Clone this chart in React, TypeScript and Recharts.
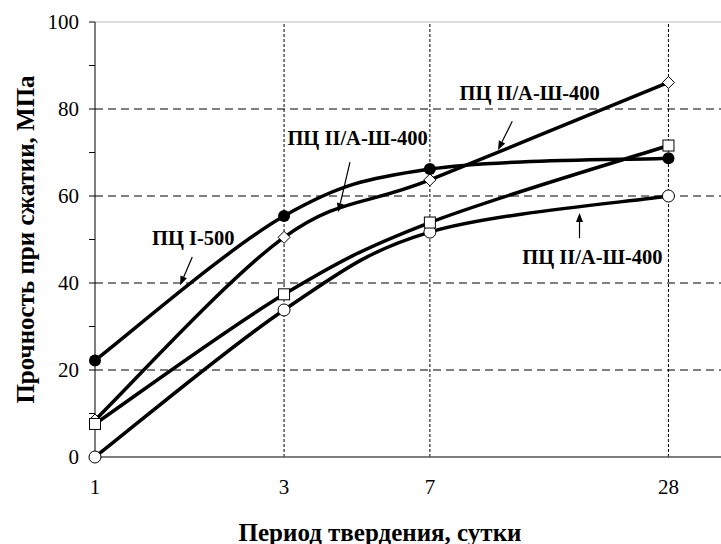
import {
  LineChart,
  Line,
  XAxis,
  YAxis,
  ReferenceLine,
  ReferenceDot,
  Label,
} from "recharts";

const days = [1, 3, 7, 28];
const pc500 = [22.2, 55.4, 66.2, 68.7];
const pcDiamond = [8.5, 50.5, 63.7, 86.1];
const pcSquare = [7.6, 37.4, 53.9, 71.6];
const pcOpen = [0, 33.8, 51.7, 60.0];

const yTicks = [0, 10, 20, 30, 40, 50, 60, 70, 80, 90, 100];
const yGrid = [20, 40, 60, 80];
const xGrid = [3, 7, 28];

// annotation text + arrow, in data units (day, MPa)
const notes = [
  { text: "ПЦ I-500", at: [1.77, 50.3], from: [1.76, 46.0], to: [1.64, 39.5] },
  { text: "ПЦ II/А-Ш-400", at: [4.6, 73.3], from: [4.4, 67.8], to: [4.11, 56.3] },
  { text: "ПЦ II/А-Ш-400", at: [12.5, 83.7], from: [11.3, 77.2], to: [10.4, 70.6] },
  { text: "ПЦ II/А-Ш-400", at: [18.0, 46.0], from: [16.7, 50.3], to: [16.7, 56.1] },
];

const data = days.map((d, i) => ({
  day: d,
  s1: pc500[i],
  s2: pcDiamond[i],
  s3: pcSquare[i],
  s4: pcOpen[i],
}));

const FONT = '"Liberation Serif", "Times New Roman", serif';

// Excel-style smoothed line (Bezier, 1/6 tangent)
const excelCurve = (context: any) => {
  let pts: number[][] = [];
  return {
    areaStart() {},
    areaEnd() {},
    lineStart() {
      pts = [];
    },
    point(x: number, y: number) {
      pts.push([+x, +y]);
    },
    lineEnd() {
      if (!pts.length) return;
      context.moveTo(pts[0][0], pts[0][1]);
      for (let i = 0; i < pts.length - 1; i++) {
        const p0 = pts[i - 1] || pts[i];
        const p1 = pts[i];
        const p2 = pts[i + 1];
        const p3 = pts[i + 2] || pts[i + 1];
        context.bezierCurveTo(
          p1[0] + (p2[0] - p0[0]) / 6,
          p1[1] + (p2[1] - p0[1]) / 6,
          p2[0] - (p3[0] - p1[0]) / 6,
          p2[1] - (p3[1] - p1[1]) / 6,
          p2[0],
          p2[1]
        );
      }
    },
  };
};

const filledDot = (p: any) => (
  <circle key={p.index} cx={p.cx} cy={p.cy} r={6} fill="#000" />
);
const openDot = (p: any) => (
  <circle key={p.index} cx={p.cx} cy={p.cy} r={6} fill="#fff" stroke="#000" strokeWidth={1} />
);
const squareDot = (p: any) => (
  <rect key={p.index} x={p.cx - 5.5} y={p.cy - 5.5} width={11} height={11} fill="#fff" stroke="#000" strokeWidth={1} />
);
const diamondDot = (p: any) => (
  <polygon
    key={p.index}
    points={`${p.cx},${p.cy - 6} ${p.cx + 6},${p.cy} ${p.cx},${p.cy + 6} ${p.cx - 6},${p.cy}`}
    fill="#fff"
    stroke="#000"
    strokeWidth={1}
  />
);

const arrowShape = (p: any) => {
  const { x1, y1, x2, y2 } = p;
  const a = Math.atan2(y2 - y1, x2 - x1);
  const len = 9;
  const w = 3.5;
  const bx = x2 - len * Math.cos(a);
  const by = y2 - len * Math.sin(a);
  const px = -Math.sin(a) * w;
  const py = Math.cos(a) * w;
  return (
    <g>
      <line x1={x1} y1={y1} x2={bx} y2={by} stroke="#000" strokeWidth={1.2} />
      <polygon points={`${x2},${y2} ${bx + px},${by + py} ${bx - px},${by - py}`} fill="#000" />
    </g>
  );
};

const noteText = (text: string) => (p: any) => (
  <text
    x={p.cx}
    y={p.cy}
    textAnchor="middle"
    dominantBaseline="central"
    fontFamily={FONT}
    fontWeight="bold"
    fontSize={20.5}
    fill="#000"
  >
    {text}
  </text>
);

export default function App() {
  return (
    <div style={{ position: "absolute", left: 0, top: 0, width: 721, height: 544, background: "#fff" }}>
      <LineChart width={721} height={544} data={data} margin={{ top: 22, right: 0, bottom: 0, left: 0 }}>
        <XAxis
          dataKey="day"
          type="number"
          scale="log"
          domain={[1, 38]}
          ticks={days}
          tickLine={false}
          tickMargin={16}
          height={87}
          axisLine={{ stroke: "#555", strokeWidth: 1.5 }}
          tick={{ fill: "#000", fontSize: 21, fontFamily: FONT }}
        >
          <Label
            content={(p: any) => (
              <text
                x={p.viewBox.x + 285}
                y={p.viewBox.y + 75}
                textAnchor="middle"
                dominantBaseline="central"
                fontFamily={FONT}
                fontWeight="bold"
                fontSize={25}
                fill="#000"
              >
                Период твердения, сутки
              </text>
            )}
          />
        </XAxis>
        <YAxis
          type="number"
          domain={[0, 100]}
          ticks={yTicks}
          interval={0}
          width={95}
          tickSize={6}
          tickMargin={10}
          tickFormatter={(v: number) => (v % 20 === 0 ? String(v) : "")}
          axisLine={{ stroke: "#000" }}
          tickLine={{ stroke: "#000" }}
          tick={{ fill: "#000", fontSize: 21, fontFamily: FONT }}
        >
          <Label
            content={(p: any) => {
              const cx = 25;
              const cy = p.viewBox.y + p.viewBox.height / 2;
              return (
                <text
                  x={cx}
                  y={cy}
                  transform={`rotate(-90 ${cx} ${cy})`}
                  textAnchor="middle"
                  dominantBaseline="central"
                  fontFamily={FONT}
                  fontWeight="bold"
                  fontSize={25}
                  fill="#000"
                >
                  Прочность при сжатии, МПа
                </text>
              );
            }}
          />
        </YAxis>

        <ReferenceLine y={100} stroke="#bbb" strokeWidth={1} />
        {yGrid.map((v) => (
          <ReferenceLine key={"h" + v} y={v} stroke="#000" strokeWidth={1} strokeDasharray="8 5" />
        ))}
        {xGrid.map((v) => (
          <ReferenceLine key={"v" + v} x={v} stroke="#000" strokeWidth={1} strokeDasharray="3 2" />
        ))}

        <Line type={excelCurve as any} dataKey="s2" stroke="#000" strokeWidth={3.5} dot={diamondDot} activeDot={false} isAnimationActive={false} />
        <Line type={excelCurve as any} dataKey="s4" stroke="#000" strokeWidth={3.5} dot={openDot} activeDot={false} isAnimationActive={false} />
        <Line type={excelCurve as any} dataKey="s3" stroke="#000" strokeWidth={3.5} dot={squareDot} activeDot={false} isAnimationActive={false} />
        <Line type={excelCurve as any} dataKey="s1" stroke="#000" strokeWidth={3.5} dot={filledDot} activeDot={false} isAnimationActive={false} />

        {notes.map((n, i) => (
          <ReferenceLine
            key={"a" + i}
            segment={[
              { x: n.from[0], y: n.from[1] },
              { x: n.to[0], y: n.to[1] },
            ]}
            shape={arrowShape}
          />
        ))}
        {notes.map((n, i) => (
          <ReferenceDot key={"t" + i} x={n.at[0]} y={n.at[1]} r={0} shape={noteText(n.text)} />
        ))}
      </LineChart>
    </div>
  );
}
